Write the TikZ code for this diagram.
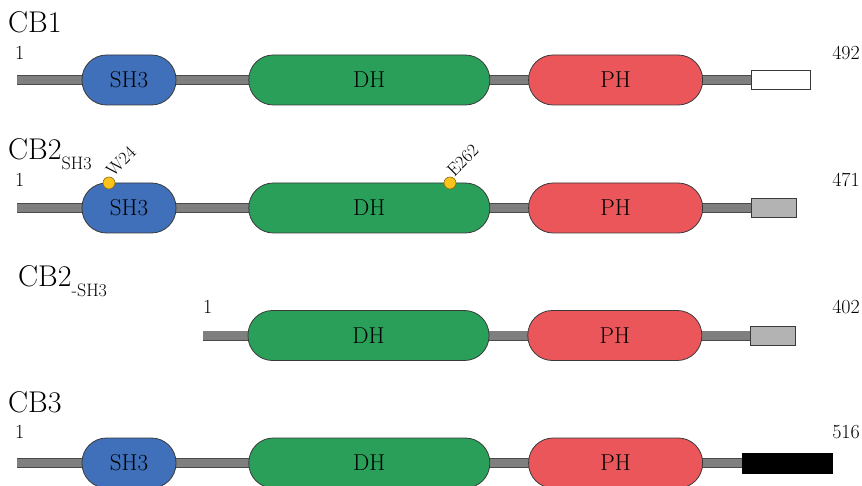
\documentclass[tikz,border=0pt]{standalone}
\usepackage{tikz}
\usetikzlibrary{positioning,backgrounds}
\definecolor{sh3blue}{HTML}{3F70B9}
\definecolor{dhgreen}{HTML}{2A9F5A}
\definecolor{phred}{HTML}{EA565A}
\definecolor{pillline}{HTML}{3A3A3A}
\definecolor{linegray}{HTML}{7F7F7F}
\definecolor{linedark}{HTML}{4A4A4A}
\definecolor{tailgray}{HTML}{B3B3B3}
\definecolor{siteyellow}{HTML}{F9C31B}
\definecolor{sitering}{HTML}{8A6A10}

\begin{document}
\begin{tikzpicture}[x=1pt, y=-1pt,
    protdomain/.style={draw=pillline, line width=0.8pt, rounded corners=24.5pt, minimum height=50pt, inner sep=0pt, font=\fontsize{23}{23}\selectfont},
    sh3/.style={protdomain, fill=sh3blue, minimum width=94pt},
    dh/.style={protdomain, fill=dhgreen, minimum width=241pt},
    ph/.style={protdomain, fill=phred, minimum width=174pt},
    tailbox/.style={draw=pillline, line width=0.6pt, minimum height=19pt, inner sep=0pt},
    backbone/.style={draw=linedark, line width=0.8pt, double=linegray, double distance=8.4pt},
    protname/.style={anchor=base west, inner sep=0pt, font=\fontsize{30}{30}\selectfont},
    seqnum/.style={inner sep=0pt, font=\fontsize{20}{20}\selectfont},
    sitedot/.style={circle, draw=sitering, fill=siteyellow, line width=0.6pt, minimum size=12pt, inner sep=0pt},
    sitelabel/.style={rotate=45, anchor=south west, inner sep=0.5pt, font=\fontsize{18}{18}\selectfont}
]
\useasboundingbox (0,0) rectangle (862,486);

% CB1
\node[protname] (cb1) at (8,33) {CB1};
\coordinate (s1) at (17,80);
\node[sh3] (sh3a) at (129,80) {SH3};
\node[dh, right=72pt of sh3a] (dha) {DH};
\node[ph, right=38pt of dha] (pha) {PH};
\node[tailbox, fill=white, minimum width=59pt, right=48pt of pha] (ta) {};
\node[seqnum, anchor=base west] (sta) at (15,60) {1};
\node[seqnum, anchor=base east] (ena) at (860,60) {492};

% CB2 (SH3)
\node[protname] (cb2) at (8,160) {CB2\raisebox{-10pt}{\fontsize{18}{18}\selectfont SH3}};
\coordinate (s2) at (17,208);
\node[sh3] (sh3b) at (129,208) {SH3};
\node[dh, right=72pt of sh3b] (dhb) {DH};
\node[ph, right=38pt of dhb] (phb) {PH};
\node[tailbox, fill=tailgray, minimum width=45pt, right=48pt of phb] (tb) {};
\node[seqnum, anchor=base west] (stb) at (15,187) {1};
\node[seqnum, anchor=base east] (enb) at (860,187) {471};
\node[sitedot] (w24) at (109,183) {};
\node[sitedot] (e262) at (450,183) {};
\node[sitelabel] (w24l) at (w24.north east) {W24};
\node[sitelabel] (e262l) at (e262.north east) {E262};

% CB2 (-SH3)
\node[protname] (cb2d) at (18,287) {CB2\raisebox{-10pt}{\fontsize{18}{18}\selectfont -SH3}};
\coordinate (s3) at (203,335.5);
\node[dh] (dhc) at (368.5,335.5) {DH};
\node[ph, right=38pt of dhc] (phc) {PH};
\node[tailbox, fill=tailgray, minimum width=45pt, right=48pt of phc] (tc) {};
\node[seqnum, anchor=base west] (stc) at (203,313) {1};
\node[seqnum, anchor=base east] (enc) at (860,313) {402};

% CB3
\node[protname] (cb3) at (8,412) {CB3};
\coordinate (s4) at (17,463);
\node[sh3] (sh3d) at (129,463) {SH3};
\node[dh, right=72pt of sh3d] (dhd) {DH};
\node[ph, right=38pt of dhd] (phd) {PH};
\node[tailbox, fill=black, draw=black, minimum width=90pt, minimum height=20pt, right=39pt of phd] (td) {};
\node[seqnum, anchor=base west] (std) at (15,438) {1};
\node[seqnum, anchor=base east] (ennd) at (860,438) {516};

\begin{scope}[on background layer]
\draw[backbone] (s1) -- (ta.west);
\draw[backbone] (s2) -- (tb.west);
\draw[backbone] (s3) -- (tc.west);
\draw[backbone] (s4) -- (td.west);
\end{scope}
\end{tikzpicture}
\end{document}
